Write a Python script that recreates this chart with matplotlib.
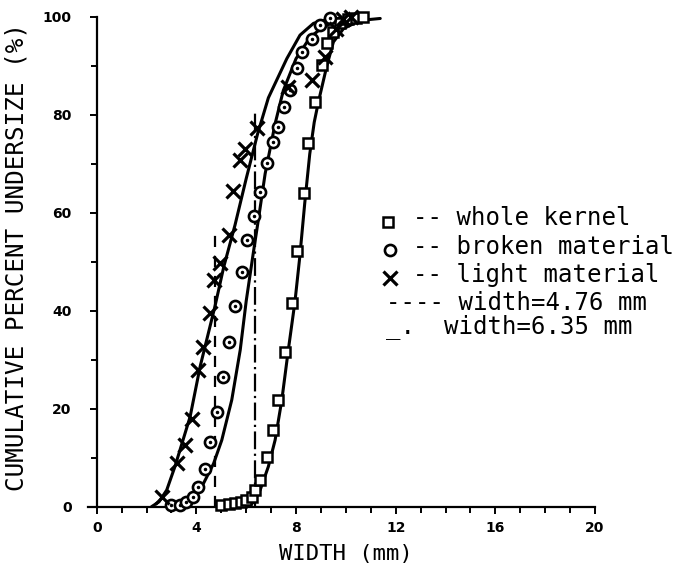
import matplotlib
matplotlib.use("Agg")
import matplotlib.pyplot as plt
from matplotlib.ticker import MultipleLocator

# ---- measured points ----
whole_x = [5.0, 5.3, 5.55, 5.8, 6.0, 6.22, 6.36, 6.56, 6.83, 7.09, 7.29, 7.56, 7.83,
           8.03, 8.30, 8.50, 8.77, 9.04, 9.24, 9.5, 9.77, 10.1, 10.4, 10.7]
whole_y = [0.3, 0.5, 0.7, 1.0, 1.3, 2.0, 3.5, 5.5, 10.2, 15.7, 21.8, 31.6, 41.6,
           52.2, 64.0, 74.2, 82.7, 90.1, 94.6, 97.0, 98.8, 99.5, 99.8, 100.0]

broken_x = [3.0, 3.35, 3.6, 3.88, 4.08, 4.35, 4.55, 4.82, 5.08, 5.29, 5.55, 5.82, 6.05,
            6.32, 6.56, 6.83, 7.09, 7.29, 7.52, 7.76, 8.03, 8.25, 8.63, 8.97, 9.37]
broken_y = [0.3, 0.3, 1.0, 2.0, 4.1, 7.8, 13.3, 19.4, 26.5, 33.7, 41.0, 48.0, 54.4,
            59.4, 64.2, 70.1, 74.4, 77.6, 81.6, 85.0, 89.6, 92.8, 95.6, 98.3, 99.7]

light_x = [2.61, 3.21, 3.55, 3.81, 4.08, 4.28, 4.55, 4.72, 4.96, 5.29, 5.45, 5.76, 5.96,
           6.45, 7.69, 8.63, 9.17, 9.6, 9.9, 10.2]
light_y = [2.0, 8.9, 12.6, 18.0, 27.9, 32.7, 39.5, 46.3, 49.7, 55.4, 64.5, 70.7, 73.1,
           77.4, 85.7, 87.1, 91.8, 97.5, 99.5, 100.0]

# ---- fitted curves ----
whole_fit_x = [6.1, 6.3, 6.56, 6.89, 7.16, 7.43, 7.69, 7.96, 8.15, 8.35, 8.55, 8.73,
               8.90, 9.24, 9.50, 9.90, 10.57, 11.38]
whole_fit_y = [0.0, 1.0, 3.4, 8.2, 13.6, 21.8, 32.0, 42.0, 51.0, 62.0, 72.0, 78.5,
               82.7, 90.1, 94.9, 97.6, 99.3, 99.7]

broken_fit_x = [2.95, 3.4, 3.75, 4.28, 4.69, 5.02, 5.42, 5.76, 6.0, 6.29, 6.5, 6.76,
                7.16, 7.49, 8.0, 8.57, 9.10, 9.77, 10.3]
broken_fit_y = [0.0, 0.6, 1.7, 4.7, 8.8, 13.6, 21.8, 32.0, 42.0, 52.0, 59.0, 68.0,
                78.2, 85.0, 91.5, 95.9, 98.0, 99.5, 100.0]

light_fit_x = [2.2, 2.5, 2.81, 3.14, 3.75, 4.15, 4.75, 5.1, 5.55, 6.0, 6.45, 6.89, 7.63,
               8.16, 8.70, 9.37, 10.0]
light_fit_y = [0.0, 1.0, 3.4, 8.2, 18.4, 28.6, 41.0, 49.0, 57.5, 67.0, 76.0, 83.5, 91.5,
               96.3, 98.7, 99.7, 100.0]

sieve_widths = [4.76, 6.35]
sieve_tops = [57, 81]

x_ticks = [0, 4, 8, 12, 16, 20]
y_ticks = [0, 20, 40, 60, 80, 100]

legend_labels = ["-- whole kernel", "-- broken material", "-- light material",
                 "---- width=4.76 mm", "_.  width=6.35 mm"]

MONO = "DejaVu Sans Mono"

fig = plt.figure(figsize=(6.81, 5.69), dpi=100)
ax = fig.add_axes([88.0 / 681, 1 - 506.7 / 569, (595 - 88.0) / 681, (506.7 - 17) / 569])
ax.set_xlim(-0.35, 20)
ax.set_ylim(0, 100)
for s in ("top", "right"):
    ax.spines[s].set_visible(False)
ax.spines["left"].set_position(("data", 0))
ax.spines["left"].set_linewidth(1.6)
ax.spines["bottom"].set_linewidth(1.6)

ax.set_xticks(x_ticks)
ax.xaxis.set_minor_locator(MultipleLocator(1))
ax.set_yticks(y_ticks)
ax.yaxis.set_minor_locator(MultipleLocator(10))
ax.tick_params(which="both", direction="out", width=1.4, colors="black")
ax.tick_params(which="major", length=5)
ax.tick_params(which="minor", length=4)
ax.tick_params(axis="y", which="major", pad=13)
ax.tick_params(axis="x", which="major", pad=5)
for lab in ax.get_xticklabels() + ax.get_yticklabels():
    lab.set_fontweight("bold")
    lab.set_fontsize(10)

lw = 2.2
ax.plot(whole_fit_x, whole_fit_y, color="black", lw=lw, solid_capstyle="round")
ax.plot(broken_fit_x, broken_fit_y, color="black", lw=lw, solid_capstyle="round")
ax.plot(light_fit_x, light_fit_y, color="black", lw=lw, solid_capstyle="round")

ax.plot([sieve_widths[0]] * 2, [0, sieve_tops[0]], color="black", lw=1.6,
        linestyle=(0, (5, 4)))
ax.plot([sieve_widths[1]] * 2, [0, sieve_tops[1]], color="black", lw=1.6,
        linestyle=(0, (8, 2, 1, 2)))

ax.plot(whole_x, whole_y, ls="none", marker="s", ms=7, mfc="white", mec="black",
        mew=1.8, clip_on=False, zorder=3)
ax.plot(broken_x, broken_y, ls="none", marker="o", ms=8, mfc="white", mec="black",
        mew=1.9, clip_on=False, zorder=3)
ax.plot(broken_x, broken_y, ls="none", marker=".", ms=3, color="black",
        clip_on=False, zorder=4)
ax.plot(light_x, light_y, ls="none", marker="x", ms=9.5, mec="black", mew=2.3,
        clip_on=False, zorder=3)

# legend (drawn in data coordinates)
ax.plot([11.7], [58.1], marker="s", ms=7, mfc="white", mec="black", mew=1.8, clip_on=False)
ax.plot([11.78], [52.4], marker="o", ms=8, mfc="white", mec="black", mew=1.9, clip_on=False)
ax.plot([11.78], [46.7], marker="x", ms=9.5, mec="black", mew=2.3, clip_on=False)
leg_x = [12.7, 12.7, 12.7, 11.6, 11.6]
leg_y = [58.9, 53.0, 47.3, 41.6, 36.7]
for lx, ly, t in zip(leg_x, leg_y, legend_labels):
    ax.text(lx, ly, t, family=MONO, fontsize=17.3, va="center", ha="left",
            clip_on=False)

fig.text(17 / 681, 1 - 257 / 569, "CUMULATIVE PERCENT UNDERSIZE (%)", family=MONO,
         fontsize=17.5, rotation=90, ha="center", va="center")
fig.text(346 / 681, 1 - 554 / 569, "WIDTH (mm)", family=MONO, fontsize=16,
         ha="center", va="center")

fig.savefig("out.png", dpi=100)
